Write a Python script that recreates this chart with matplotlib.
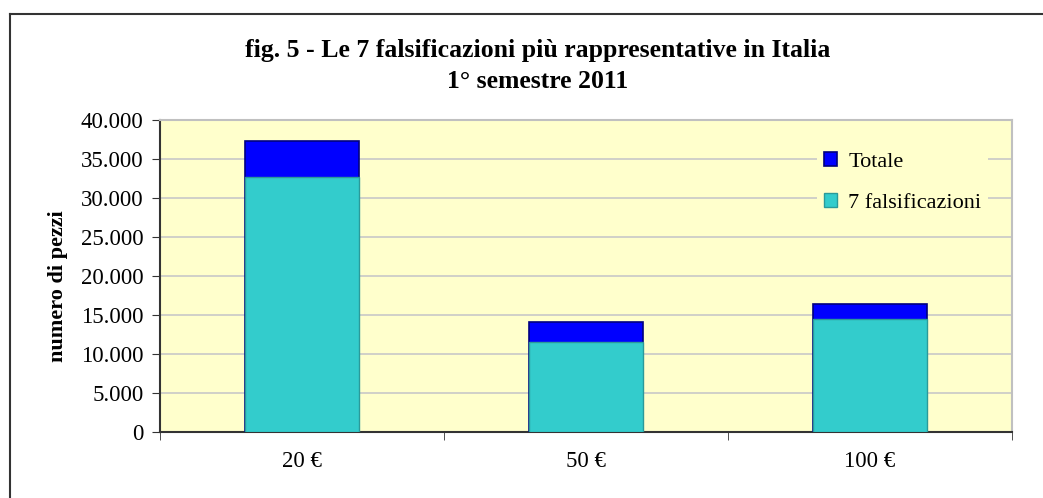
import matplotlib
matplotlib.use("Agg")
import matplotlib.pyplot as plt
import numpy as np

categories = ["20 €", "50 €", "100 €"]
totale = [37250, 14150, 16450]
falsificazioni7 = [32750, 11500, 14550]
yticks = [0, 5000, 10000, 15000, 20000, 25000, 30000, 35000, 40000]
ytick_labels = ["0", "5.000", "10.000", "15.000", "20.000", "25.000", "30.000", "35.000", "40.000"]

plt.rcParams['font.family'] = ['Liberation Serif', 'DejaVu Serif']

fig = plt.figure(figsize=(10.43, 4.98), dpi=100)
W, H = 1043, 498
ax = fig.add_axes([160 / W, (H - 432) / H, (1012 - 160) / W, (432 - 120) / H])
ax.set_facecolor('#FFFFCC')

x = np.arange(len(categories))
ax.bar(x, totale, width=0.4, color='#0000FF', edgecolor='#000080', linewidth=1.2, label='Totale', zorder=3)
ax.bar(x, falsificazioni7, width=0.4, color='#33CCCC', edgecolor='#2A9A9A', linewidth=1.0, label='7 falsificazioni', zorder=4)

ax.set_xlim(-0.5, 2.5)
ax.set_ylim(0, 40000)
ax.set_yticks(yticks)
ax.set_yticklabels(ytick_labels, fontsize=16.5)
ax.set_xticks(x)
ax.set_xticklabels(categories, fontsize=16.5)
ax.set_xticks([-0.5, 0.5, 1.5, 2.5], minor=True)
ax.tick_params(axis='x', which='major', length=0, pad=14)
ax.tick_params(axis='x', which='minor', length=6, direction='out', color='#333333')
ax.tick_params(axis='y', length=6, direction='out', color='#333333', pad=6)
ax.yaxis.grid(True, color='#C8C8C8', linewidth=1.2, zorder=0)
ax.set_axisbelow(True)

for s in ['top', 'right']:
    ax.spines[s].set_color('#C0C0C0')
    ax.spines[s].set_linewidth(1.5)
for s in ['left', 'bottom']:
    ax.spines[s].set_color('#333333')
    ax.spines[s].set_linewidth(1.5)

ax.set_ylabel('numero di pezzi', fontsize=16, fontweight='bold')
ax.yaxis.set_label_coords((68 - 160) / 852, (432 - 286) / 312)

leg = ax.legend(loc='upper left', bbox_to_anchor=((817 - 160) / 852, (432 - 145) / 312),
                frameon=True, fontsize=16, handlelength=0.6, handleheight=0.6,
                handletextpad=0.5, labelspacing=0.95, borderpad=0.3, borderaxespad=0)
leg.get_frame().set_facecolor('#FFFFCC')
leg.get_frame().set_edgecolor('none')
leg.get_frame().set_alpha(1)
leg.set_zorder(5)

fig.text(538 / W, 1 - 51 / H, 'fig. 5 - Le 7 falsificazioni più rappresentative in Italia',
         ha='center', va='center', fontsize=18.5, fontweight='bold')
fig.text(538 / W, 1 - 81 / H, '1° semestre 2011',
         ha='center', va='center', fontsize=18.5, fontweight='bold')

# outer chart frame
fig.add_artist(plt.Line2D([10 / W, 10 / W], [0, 1 - 14 / H], transform=fig.transFigure, color='#333333', linewidth=1.5))
fig.add_artist(plt.Line2D([10 / W, 1], [1 - 14 / H, 1 - 14 / H], transform=fig.transFigure, color='#333333', linewidth=1.5))

fig.savefig('out.png', dpi=100)
